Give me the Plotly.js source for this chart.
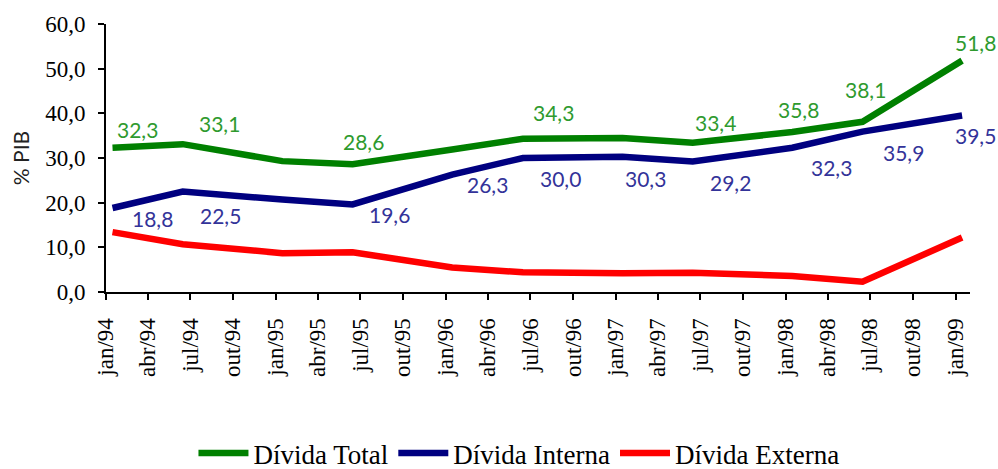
<!DOCTYPE html>
<html>
<head>
<meta charset="utf-8">
<script src="https://cdn.plot.ly/plotly-3.0.1.min.js"></script>
<style>
  html, body { margin: 0; padding: 0; background: #ffffff; }
  #chart { width: 998px; height: 469px; }
</style>
</head>
<body>
<div id="chart"></div>
<script>
// ---- data ----
const dates = ["1994-01-15", "1994-06-15", "1995-01-15", "1995-06-15", "1996-01-15", "1996-06-15",
               "1997-01-15", "1997-06-15", "1998-01-15", "1998-06-15", "1999-01-15"];
const dividaTotal   = [32.3, 33.1, 29.3, 28.6, 31.9, 34.3, 34.5, 33.4, 35.8, 38.1, 51.8];
const dividaInterna = [18.8, 22.5, 20.7, 19.6, 26.3, 30.0, 30.3, 29.2, 32.3, 35.9, 39.5];
const dividaExterna = [13.4, 10.7, 8.7, 8.9, 5.5, 4.4, 4.2, 4.3, 3.6, 2.3, 12.2];
const tickDates = ["1994-01-01", "1994-04-01", "1994-07-01", "1994-10-01",
                   "1995-01-01", "1995-04-01", "1995-07-01", "1995-10-01",
                   "1996-01-01", "1996-04-01", "1996-07-01", "1996-10-01",
                   "1997-01-01", "1997-04-01", "1997-07-01", "1997-10-01",
                   "1998-01-01", "1998-04-01", "1998-07-01", "1998-10-01",
                   "1999-01-01"];
const tickLabels = ["jan/94", "abr/94", "jul/94", "out/94",
                    "jan/95", "abr/95", "jul/95", "out/95",
                    "jan/96", "abr/96", "jul/96", "out/96",
                    "jan/97", "abr/97", "jul/97", "out/97",
                    "jan/98", "abr/98", "jul/98", "out/98",
                    "jan/99"];
const seriesNames = ["Dívida Total", "Dívida Interna", "Dívida Externa"];

// ---- label placement (pixel offsets of each value label; null = no label) ----
const totalLabelOffsets = [[25,-18],[37,-21],null,[11,-23],null,[31,-26],null,[23,-20],[6,-23],[3,-32],[13,-18]];
const internaLabelOffsets = [[40,10],[38,24],null,[37,10],[35,10],[38,20],[23,22],[38,21],[39,20],[41,21],[13,20]];

const lineColors = ["#008000", "#000080", "#ff0000"];
const labelColors = ["#2e9a2e", "#333399"];

function fmt(v) { return v.toFixed(1).replace(".", ","); }

function makeLabels(values, offsets, color) {
  const out = [];
  values.forEach((v, i) => {
    const o = offsets[i];
    if (!o) return;
    out.push({
      x: dates[i], y: v, xref: "x", yref: "y",
      text: fmt(v), showarrow: false,
      xshift: o[0], yshift: -o[1],
      font: { family: "Lato, 'Open Sans', sans-serif", size: 21, color: color }
    });
  });
  return out;
}

const traces = [dividaTotal, dividaInterna, dividaExterna].map((vals, k) => ({
  type: "scatter", mode: "lines", name: seriesNames[k],
  x: dates, y: vals,
  line: { color: lineColors[k], width: 6.5 },
  hoverinfo: "skip"
}));

const layout = {
  width: 998, height: 469,
  paper_bgcolor: "#ffffff", plot_bgcolor: "#ffffff",
  margin: { l: 106, r: 28, t: 24, b: 177, pad: 0, autoexpand: false },
  separators: ",.",
  showlegend: true,
  xaxis: {
    type: "date",
    range: ["1994-01-01", "1999-02-01"],
    tickmode: "array", tickvals: tickDates, ticktext: tickLabels,
    tickangle: -90,
    ticks: "outside", ticklen: 6, tickwidth: 2, tickcolor: "#000",
    showline: true, linecolor: "#000", linewidth: 2,
    showgrid: false, zeroline: false, automargin: false,
    ticklabelstandoff: 9,
    tickfont: { family: "'Liberation Serif', 'Times New Roman', serif", size: 23, color: "#000" }
  },
  yaxis: {
    range: [0, 60],
    tickmode: "linear", tick0: 0, dtick: 10, tickformat: ".1f",
    ticks: "outside", ticklen: 6, tickwidth: 2, tickcolor: "#000",
    showline: true, linecolor: "#000", linewidth: 2,
    showgrid: false, zeroline: false, automargin: false,
    ticklabelstandoff: 8,
    tickfont: { family: "'Liberation Serif', 'Times New Roman', serif", size: 23, color: "#000" },
    title: { text: "% PIB", standoff: 10,
             font: { family: "Lato, 'Open Sans', sans-serif", size: 21, color: "#222" } }
  },
  legend: {
    orientation: "h", x: 0.52, xref: "container", xanchor: "center",
    y: 0.033, yref: "container", yanchor: "middle",
    itemwidth: 50,
    font: { family: "'Liberation Serif', 'Times New Roman', serif", size: 27, color: "#000" },
    bgcolor: "rgba(0,0,0,0)"
  },
  annotations: makeLabels(dividaTotal, totalLabelOffsets, labelColors[0])
    .concat(makeLabels(dividaInterna, internaLabelOffsets, labelColors[1]))
};

Plotly.newPlot("chart", traces, layout, { staticPlot: true, displayModeBar: false });
</script>
</body>
</html>
